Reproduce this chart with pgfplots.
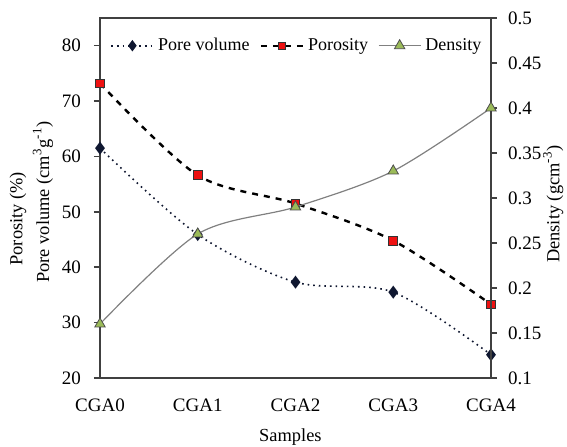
\documentclass[border=0pt]{standalone}
\usepackage{pgfplots}
\pgfplotsset{compat=1.18}
\usepackage{fontspec}
\setmainfont{Liberation Serif}
\definecolor{axgray}{HTML}{404040}
\definecolor{pvnavy}{HTML}{0F1730}
\definecolor{pored}{HTML}{EE1111}
\definecolor{dgreen}{HTML}{9BBB59}
\definecolor{dline}{HTML}{808080}
\begin{document}
\begin{tikzpicture}[font=\fontsize{9.2}{11}\selectfont]
\pgfplotsset{
  common/.style={
    scale only axis, width=195.5pt, height=180pt,
    xmin=0, xmax=4,
    tick align=outside, major tick length=3pt,
    axis line style={axgray, line width=0.75pt},
    tick label style={font=\fontsize{9.5}{11}\selectfont},
    /pgf/number format/assume math mode=true,
  }
}
\begin{axis}[common, name=ax,
  ymin=20, ymax=85,
  xtick={0,1,2,3,4},
  xticklabels={CGA0,CGA1,CGA2,CGA3,CGA4},
  xtick style={draw=none},
  xticklabel style={yshift=-4pt},
  ytick={20,30,40,50,60,70,80},
  ytick pos=left,
  ytick style={axgray, line width=0.75pt},
  yticklabel style={xshift=-3pt},
  xlabel={Samples},
  xlabel style={at={(axis description cs:0.487,-0.164)}, anchor=center},
  ylabel={Pore volume  (cm\textsuperscript{3}g\textsuperscript{-1})},
  ylabel style={at={(axis description cs:-0.146,0.489)}, anchor=center},
]
\addplot[pvnavy, dotted, line width=0.8pt, smooth, mark=diamond*, mark size=2.6pt,
  mark options={solid, fill=pvnavy, draw=pvnavy}]
  coordinates {(0,61.5) (1,45.9) (2,37.3) (3,35.5) (4,24.2)};
\addplot[black, dashed, line width=1.2pt, smooth, mark=square*, mark size=2.2pt,
  mark options={solid, fill=pored, draw=black!80, line width=0.4pt}]
  coordinates {(0,73.2) (1,56.6) (2,51.5) (3,44.8) (4,33.3)};
\end{axis}
\node[rotate=90, anchor=center] at ([shift={(-41pt,79.6pt)}]ax.south west) {Porosity (\%)};
\begin{axis}[common,
  ymin=0.1, ymax=0.5,
  axis x line=none,
  axis y line*=right,
  ytick={0.1,0.15,0.2,0.25,0.3,0.35,0.4,0.45,0.5},
  ytick style={axgray, line width=0.75pt},
  yticklabel style={xshift=2pt, /pgf/number format/fixed, /pgf/number format/precision=2},
  ylabel={Density (gcm\textsuperscript{-3})},
  ylabel style={at={(axis description cs:1.159,0.483)}, anchor=center, rotate=0},
  legend style={draw=none, fill=none, at={(axis description cs:0.026,0.923)}, anchor=west,
    legend columns=-1, inner sep=0pt, font=\fontsize{9}{11}\selectfont,
    /tikz/every even column/.append style={column sep=3pt}},
  legend image code/.code={\draw[mark repeat=2,mark phase=2,#1] plot coordinates {(0pt,0pt)(10.5pt,0pt)(21pt,0pt)};},
]
\addlegendimage{pvnavy, dotted, line width=0.8pt, mark=diamond*, mark size=2.2pt,
  mark options={solid, fill=pvnavy, draw=pvnavy}}
\addlegendentry{Pore volume}
\addlegendimage{black, dashed, line width=1.2pt, mark=square*, mark size=1.9pt,
  mark options={solid, fill=pored, draw=black!80, line width=0.4pt}}
\addlegendentry{Porosity}
\addplot[dline, line width=0.6pt, smooth, mark=triangle*, mark size=3pt,
  mark options={fill=dgreen, draw=black!70, line width=0.4pt}]
  coordinates {(0,0.16) (1,0.26) (2,0.29) (3,0.33) (4,0.40)};
\addlegendentry{Density}
\end{axis}
\pgfresetboundingbox
\path[use as bounding box] ([shift={(-50pt,-34.5pt)}]ax.south west) rectangle ([shift={(38pt,9pt)}]ax.north east);
\end{tikzpicture}
\end{document}
